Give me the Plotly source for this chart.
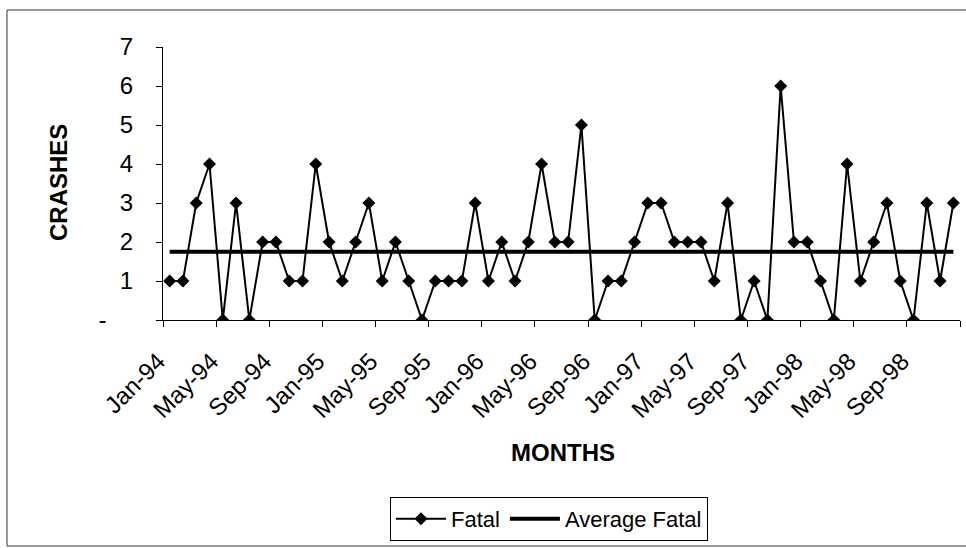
import plotly.graph_objects as go

# Monthly fatal crashes, Jan-1994 through Dec-1998
fatal = [1, 1, 3, 4, 0, 3, 0, 2, 2, 1, 1, 4,
         2, 1, 2, 3, 1, 2, 1, 0, 1, 1, 1, 3,
         1, 2, 1, 2, 4, 2, 2, 5, 0, 1, 1, 2,
         3, 3, 2, 2, 2, 1, 3, 0, 1, 0, 6, 2,
         2, 1, 0, 4, 1, 2, 3, 1, 0, 3, 1, 3]
average_fatal = 1.75

x_labels = ["Jan-94", "May-94", "Sep-94", "Jan-95", "May-95", "Sep-95",
            "Jan-96", "May-96", "Sep-96", "Jan-97", "May-97", "Sep-97",
            "Jan-98", "May-98", "Sep-98", ""]
y_ticks = [0, 1, 2, 3, 4, 5, 6, 7]
y_labels = ["-" + "\u00a0" * 4, "1", "2", "3", "4", "5", "6", "7"]

n = len(fatal)
months = list(range(n))
step = 4
tick_pos = [k * step - 0.5 for k in range(len(x_labels))]
# a trailing no-break space nudges each slanted label away from its tick
tick_text = [t + "\u00a0" if t else t for t in x_labels]

W, H = 966, 548
L, R, T, B = 163, 6, 47, 228
pw, ph = W - L - R, H - T - B

def px(xpix):
    return (xpix - L) / pw

def py(ypix):
    return (H - B - ypix) / ph

FONT = "Arial, 'Liberation Sans', sans-serif"

fig = go.Figure()
fig.add_trace(go.Scatter(
    x=months, y=fatal, name="Fatal", mode="lines+markers",
    line=dict(color="black", width=2),
    marker=dict(symbol="diamond", size=10, color="black"),
))
fig.add_trace(go.Scatter(
    x=months, y=[average_fatal] * n, name="Average Fatal", mode="lines",
    line=dict(color="black", width=4),
))

fig.update_layout(
    width=W, height=H,
    margin=dict(l=L, r=R, t=T, b=B),
    paper_bgcolor="white", plot_bgcolor="white",
    font=dict(family=FONT, size=22, color="black"),
    showlegend=True,
    legend=dict(
        orientation="h", x=px(549), xanchor="center", y=py(497), yanchor="top",
        bordercolor="black", borderwidth=1, font=dict(size=22),
        itemwidth=50, tracegroupgap=0,
    ),
    xaxis=dict(
        range=[-0.5, n - 0.5], showgrid=False, zeroline=False,
        showline=True, linecolor="black", linewidth=1,
        tickmode="array", tickvals=tick_pos, ticktext=tick_text,
        ticks="outside", ticklen=6, tickcolor="black",
        tickangle=-45, ticklabelstandoff=6,
        tickfont=dict(size=24),
    ),
    yaxis=dict(
        range=[0, 7], showgrid=False, zeroline=False,
        showline=True, linecolor="black", linewidth=1,
        tickmode="array", tickvals=y_ticks, ticktext=y_labels,
        ticks="outside", ticklen=6, tickcolor="black",
        ticklabelstandoff=18, tickfont=dict(size=24),
    ),
    annotations=[
        dict(text="<b>CRASHES</b>", xref="paper", yref="paper",
             x=px(58), y=py(183), textangle=-90, showarrow=False,
             font=dict(size=24), xanchor="center", yanchor="middle"),
        dict(text="<b>MONTHS</b>", xref="paper", yref="paper",
             x=px(563), y=py(452), showarrow=False,
             font=dict(size=24), xanchor="center", yanchor="middle"),
    ],
    shapes=[
        dict(type="rect", xref="paper", yref="paper",
             x0=px(7), x1=px(975), y0=py(546), y1=py(10),
             line=dict(color="#333333", width=1), layer="below"),
    ],
)

fig.write_html("out.html")
